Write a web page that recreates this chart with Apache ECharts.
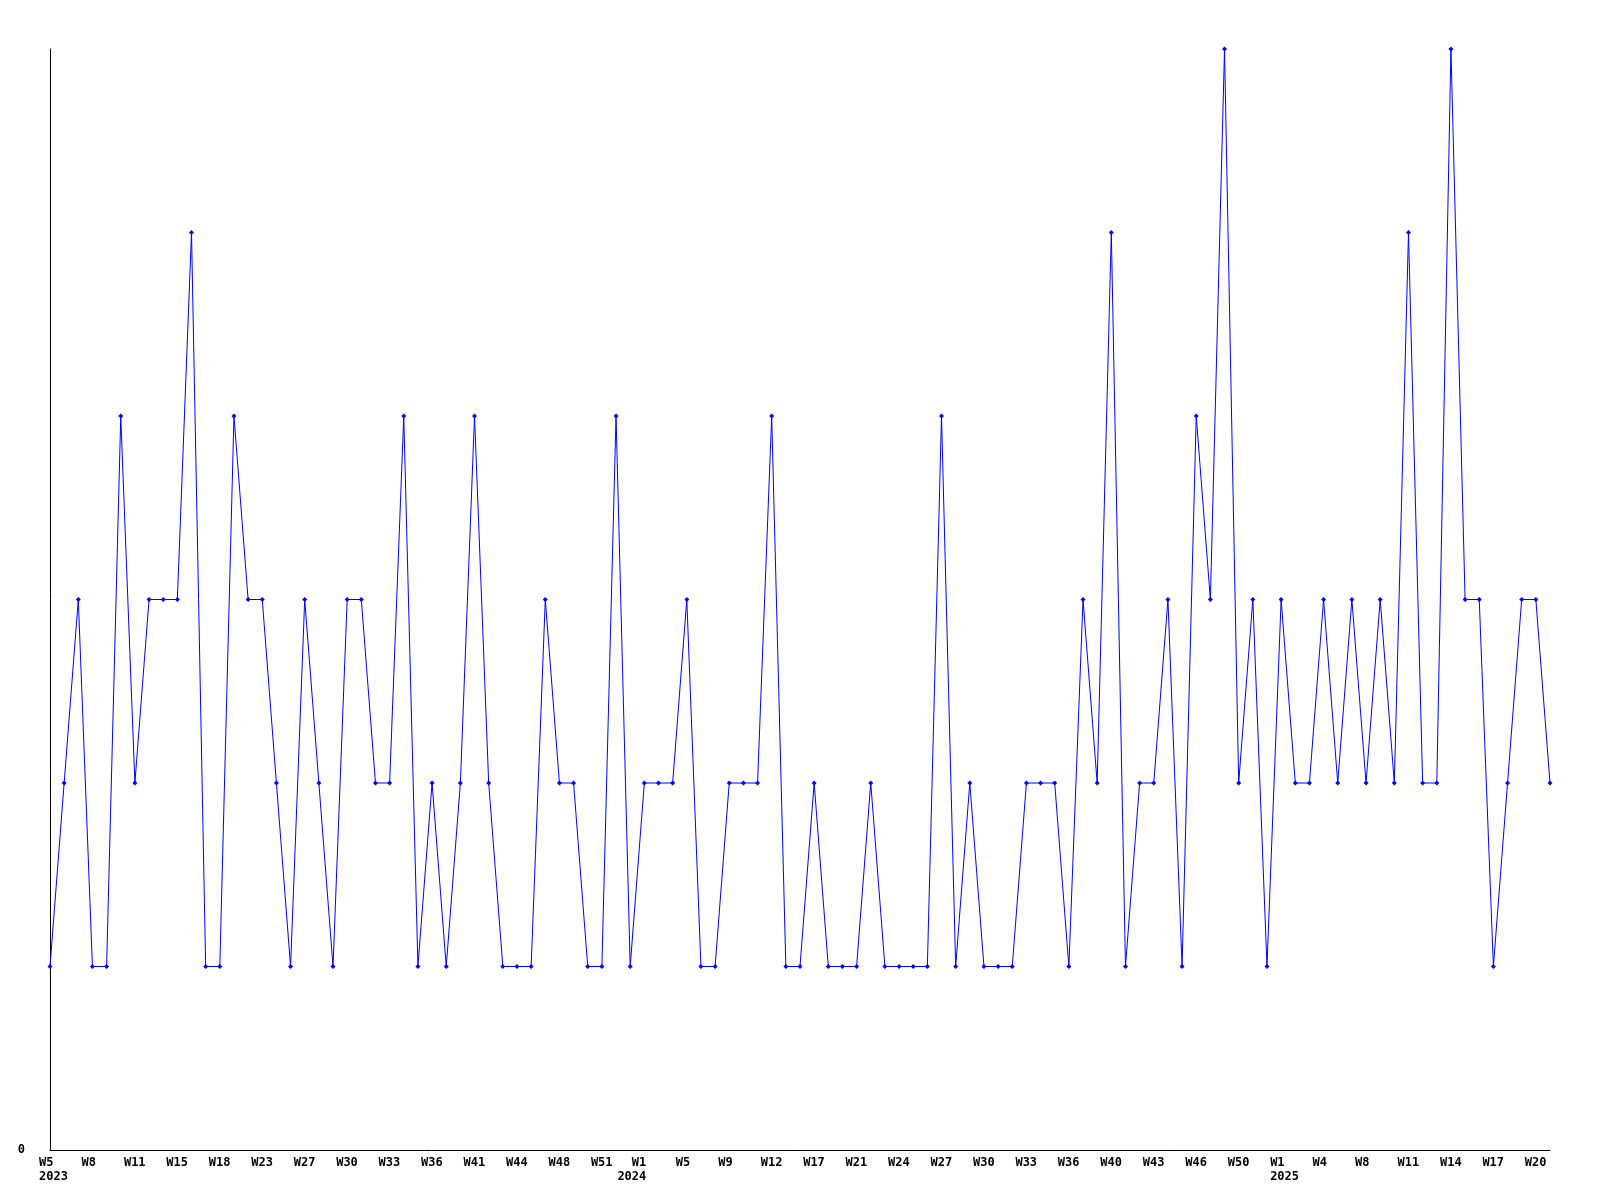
<!DOCTYPE html>
<html>
<head>
<meta charset="utf-8">
<script src="https://cdn.jsdelivr.net/npm/echarts@6/dist/echarts.min.js"></script>
<style>
html,body{margin:0;padding:0;background:#fff;}
#chart{width:1600px;height:1200px;}
</style>
</head>
<body>
<div id="chart"></div>
<script>
const weeks2023 = [5,6,7,8,9,10,11,12,13,15,16,17,18,19,21,23,24,26,27,28,29,30,31,32,33,34,35,36,38,40,41,42,43,44,46,47,48,49,50,51,52,53];
const weeks2024 = [1,2,3,5,6,7,9,10,11,12,13,15,17,18,19,21,22,23,24,25,26,27,28,29,30,31,32,33,34,35,36,37,38,40,41,42,43,44,45,46,47,48,50,51,52];
const weeks2025 = [1,2,3,4,5,6,8,9,10,11,12,13,14,15,16,17,18,19,20,21];
const years = ['2023','2024','2025'];
const values = [
  1,2,3,1,1,4,2,3,3,3,
  5,1,1,4,3,3,2,1,3,2,
  1,3,3,2,2,4,1,2,1,2,
  4,2,1,1,1,3,2,2,1,1,
  4,1,2,2,2,3,1,1,2,2,
  2,4,1,1,2,1,1,1,2,1,
  1,1,1,4,1,2,1,1,1,2,
  2,2,1,3,2,5,1,2,2,3,
  1,4,3,6,2,3,1,3,2,2,
  3,2,3,2,3,2,5,2,2,6,
  3,3,1,2,3,3,2
];
const yTickLabels = ['0'];

const categories = [];
[weeks2023, weeks2024, weeks2025].forEach((ws, yi) => {
  ws.forEach((w, i) => {
    if (i === 0 && yi === 1) {
      // year label sits further left under this week label in the reference
      categories.push({value: '  W' + w + '\n' + years[yi], textStyle: {padding: [0, 0, 0, -25]}});
    } else {
      categories.push(i === 0 ? 'W' + w + '\n' + years[yi] : 'W' + w);
    }
  });
});

const font = '"DejaVu Sans Mono", "Liberation Mono", monospace';
const chart = echarts.init(document.getElementById('chart'), null, {renderer: 'canvas'});
chart.setOption({
  backgroundColor: '#ffffff',
  animation: false,
  grid: {left: 50, right: 50, top: 49, bottom: 50, containLabel: false},
  xAxis: {
    type: 'category',
    data: categories,
    boundaryGap: false,
    axisLine: {show: true, lineStyle: {color: '#000', width: 1}},
    axisTick: {show: false},
    splitLine: {show: false},
    axisLabel: {
      interval: 2,
      color: '#000',
      fontFamily: font,
      fontWeight: 'bold',
      fontSize: 12,
      lineHeight: 14,
      margin: 6,
      align: 'left',
      padding: [0, 0, 0, -11]
    }
  },
  yAxis: {
    type: 'value',
    min: 0,
    max: 6,
    interval: 6,
    axisLine: {show: true, lineStyle: {color: '#000', width: 1}},
    axisTick: {show: false},
    splitLine: {show: false},
    axisLabel: {
      color: '#000',
      fontFamily: font,
      fontWeight: 'bold',
      fontSize: 12,
      margin: 25,
      formatter: function (v) { return v === 0 ? yTickLabels[0] : ''; }
    }
  },
  series: [{
    type: 'line',
    data: values,
    symbol: 'diamond',
    symbolSize: 5,
    showAllSymbol: true,
    lineStyle: {color: '#0000ff', width: 1},
    itemStyle: {color: '#0000ff'},
    emphasis: {disabled: true}
  }]
});
</script>
</body>
</html>
